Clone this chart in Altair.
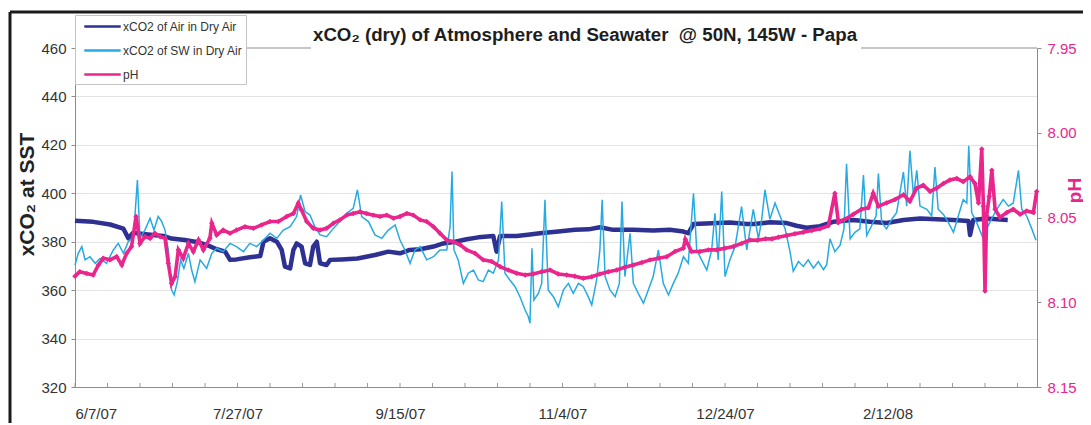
import altair as alt
import pandas as pd

AIR = "xCO2 of Air in Dry Air"
SW = "xCO2 of SW in Dry Air"
PH = "pH"
TITLE = "xCO\u2082 (dry) of Atmosphere and Seawater\u00a0 @ 50N, 145W - Papa"
START = pd.Timestamp("2007-06-07")

# days since 6/7/07 and xCO2 of air
air_day = [0, 5.6, 10.8, 14.9, 16.4, 17.9, 21, 24, 27.2, 29.7, 33.8, 37.4, 40.5, 43.6, 46.2, 47.7,
           49.7, 53.8, 57, 58, 60, 62.1, 63.6, 64.6, 66.2, 67.2, 68.2, 69.7, 70.8, 72.3, 73.3, 74.4,
           75.4, 77.4, 78.5, 82, 86.9, 92.3, 96.4, 100, 103, 106.2, 110.3, 113.3, 117, 120.5, 124.1,
           128.7, 129.7, 130.8, 135.9, 140, 143, 148.7, 153.8, 158, 161.5, 165.6, 171.8, 177.9, 183,
           187.2, 188.7, 190.3, 195.9, 201.5, 206.7, 208.7, 213.8, 219, 222, 225.1, 229.2, 233.3,
           239.5, 244.6, 249.7, 254.9, 260, 265.1, 270.3, 274.9, 275.4, 276.4, 280.5, 283.6, 287]
air_xco2 = [388.7, 388.2, 387.1, 385.4, 381.4, 383.7, 383.2, 382.8, 382.4, 381.3, 380.7, 379.9, 378.7,
            376.9, 375.9, 372.5, 372.7, 373.6, 374.1, 380.0, 381.4, 380.0, 376.6, 369.7, 369.0, 376.6,
            379.3, 378.0, 371.1, 370.4, 378.0, 380.0, 371.1, 370.4, 372.5, 372.7, 373.1, 374.5, 375.9,
            375.2, 376.6, 376.9, 378.0, 379.3, 380.0, 381.0, 381.8, 382.4, 375.9, 382.4, 382.4, 383.0,
            383.5, 384.2, 384.9, 385.1, 386.0, 384.9, 384.9, 384.6, 384.9, 384.2, 383.5, 387.3, 387.6,
            387.9, 387.3, 387.3, 388.0, 387.7, 386.6, 385.8, 386.4, 388.2, 389.0, 388.2, 387.7, 389.0,
            389.6, 389.3, 389.0, 388.6, 382.8, 389.0, 389.6, 389.3, 389.0]

# days since 6/7/07 and xCO2 of seawater
sw_day = [0, 1, 2.1, 3.1, 4.6, 6.2, 7.7, 9.7, 11.8, 13.3, 14.9, 16.4, 18, 19.2, 20, 21.5, 23.1, 24.3,
          25.6, 26.7, 27.7, 28.7, 29.7, 30.5, 31.5, 32.5, 33.5, 34.9, 35.9, 36.9, 38.5, 40.5, 42.1,
          43.6, 45.6, 47.7, 49.7, 51.8, 53.8, 55.9, 58, 60, 62.1, 64.1, 66.2, 68.2, 69.4, 70.8, 72.3,
          73.8, 75.4, 77.4, 79.5, 81.5, 83.6, 85.6, 86.9, 88.2, 90.3, 92.3, 94.4, 96.4, 98.5,
          100, 101.5, 103.1, 104.6, 106.2, 108.2, 110.3, 112.3, 114.4, 115.4, 116, 116.6, 117.9, 119.5,
          121, 122.6, 124.1, 125.6, 127.2, 128.7, 130.3, 131.3, 132.3, 133.8, 135.4, 136.9, 138.5,
          139.5, 140, 140.6, 141.2, 142.6, 143.6, 144.6, 145.6, 147.2, 148.7, 150.3, 151.8, 153.3,
          154.9, 156.4, 157.9, 159, 160.5, 161.5, 162.2, 163.1, 164.6, 166.2, 167.5, 168.3, 169.2,
          170.8, 171.8, 173.3, 174.9, 176.4, 177.9, 179.5, 181, 182.6, 184.1, 185.6, 187.2, 188.7,
          190.3, 191.3, 192.8, 194.4, 195.9, 196.9, 197.9, 199, 200, 201.5, 203.1, 205.1, 206.7,
          208.7, 210.3, 211.3, 212.3, 213.8, 215.4, 216.9, 218.5, 220, 221, 222.6, 224.1, 225.6,
          227.2, 228.7, 230.3, 231.3, 232.3, 233.8, 235.4, 236.6, 237.4, 238.5, 240, 241.5, 242.6,
          243.6, 245.1, 246.5, 247.2, 248.2, 249.7, 251.3, 252.8, 254.9, 255.9, 256.9, 258, 259, 260,
          262.1, 263.6, 264.6, 265.6, 267.2, 268.7, 270.3, 271.8, 273.3, 274.4, 275, 275.9, 277.4,
          279.5, 280.5, 282, 283.6, 285.6, 287.2, 288.7, 290.3, 291.3, 292.8, 294.4, 295.7]
sw_xco2 = [370.4, 375.2, 378.0, 372.5, 373.8, 371.1, 373.1, 371.1, 376.6, 379.3, 375.2, 380.0, 382.1,
           405.5, 381.4, 384.8, 389.7, 384.8, 390.4, 388.3, 384.8, 376.6, 360.1, 358.0, 363.5, 372.5,
           369.0, 375.2, 368.3, 363.5, 372.5, 369.0, 375.2, 377.3, 375.9, 379.3, 378.0, 375.9, 379.3,
           378.0, 380.7, 383.5, 381.4, 384.8, 386.2, 390.4, 399.3, 392.4, 391.0, 386.2, 382.8, 382.1,
           385.5, 388.3, 391.7, 393.8, 401.4, 390.4, 388.3, 382.8, 381.4, 384.8, 386.9,
           380.7, 376.6, 371.1, 376.6, 378.0, 372.5, 373.8, 376.6, 376.6, 386.2, 409.0, 376.6, 372.5,
           362.8, 367.0, 368.3, 364.2, 363.5, 368.3, 367.0, 372.5, 396.6, 367.0, 364.2, 361.4, 357.3,
           351.8, 349.0, 346.3, 377.3, 355.9, 358.7, 362.8, 397.3, 360.1, 357.3, 353.2, 360.1, 362.8,
           358.7, 362.8, 361.4, 357.3, 353.9, 364.2, 376.6, 397.3, 365.6, 360.1, 357.3, 362.8, 396.6,
           365.6, 383.5, 362.8, 358.7, 354.6, 360.1, 365.6, 376.6, 362.8, 358.0, 362.8, 367.0, 373.8,
           371.1, 400.0, 376.6, 372.5, 368.3, 376.6, 391.7, 372.5, 400.7, 365.6, 372.5, 378.0, 394.5,
           376.6, 393.4, 381.2, 389.3, 401.4, 389.3, 396.0, 390.7, 385.3, 375.9, 367.8, 371.8, 369.8,
           372.5, 369.1, 371.8, 368.5, 370.5, 381.2, 375.9, 378.5, 385.3, 412.2, 381.2, 383.9, 385.3,
           407.5, 382.6, 386.6, 390.7, 408.2, 388.0, 385.3, 389.3, 392.0, 408.8, 394.7, 417.6, 398.7,
           409.5, 394.7, 393.4, 390.7, 410.8, 393.4, 391.3, 388.0, 383.9, 390.7, 397.4, 396.0, 419.6,
           392.0, 388.0, 381.2, 385.3, 389.3, 393.4, 397.4, 394.7, 396.0, 409.5, 393.4, 390.7, 385.3,
           380.6]

# days since 6/7/07 and pH
ph_day = [0, 1.5, 3.6, 5.6, 7.2, 8.7, 10.8, 12.8, 14.4, 15.9, 17.4, 18.8, 20, 21.5, 23.1, 24.6, 26.2,
          27.7, 28.7, 29.7, 30.8, 31.8, 33.3, 34.9, 36.4, 38, 39.5, 41.5, 42.1, 43.6, 45.6, 47.7,
          49.7, 52.3, 54.9, 57.4, 60, 62.6, 65.1, 67.2, 68.7, 69.7, 71.3, 73.3, 75.4, 77.4, 79.5,
          81.5, 83.6, 85.6, 87.7, 89.7, 91.8, 93.8, 95.9, 98,
          100, 102.1, 104.1, 106.2, 108.2, 110.3, 112.3, 114.4, 116.4, 118.5, 120.5, 123.1, 125.6,
          128.2, 130.8, 133.3, 135.9, 138.5, 141, 143.6, 146.2, 148.7, 151.3, 153.8, 156.4, 159,
          161.5, 164.1, 166.7, 169.2, 171.8, 174.4, 176.9, 179.5, 182.1, 184.6, 187.2, 187.8, 189.7,
          192.3, 194.9, 197.4, 200, 202.6, 205.1, 207.7,
          210, 212.5, 214.5, 216.4, 219, 221.5, 224.1, 226.7, 229.2, 231.8, 233.8, 234.9, 236.9,
          239.5, 242, 244.1, 245.6, 247.2, 249.7, 252.3, 254.9, 256.9, 259, 261, 263.1, 265.1, 267.2,
          269.2, 271.3, 273.3, 275.4, 276.9, 278, 279, 279.5, 280, 280.5, 281.3, 282.1, 283.1, 284.6,
          286.7, 288.7, 290.8, 292.8, 294.9, 295.9]
ph_value = [8.0846, 8.0820, 8.0830, 8.0839, 8.0780, 8.0741, 8.0750, 8.0731, 8.0780, 8.0711, 8.0671,
            8.0494, 8.0653, 8.0613, 8.0623, 8.0593, 8.0613, 8.0623, 8.0770, 8.0889, 8.0849, 8.0691,
            8.0741, 8.0653, 8.0701, 8.0633, 8.0691, 8.0623, 8.0534, 8.0603, 8.0574, 8.0593, 8.0574,
            8.0554, 8.0564, 8.0544, 8.0524, 8.0524, 8.0494, 8.0476, 8.0416, 8.0456, 8.0524, 8.0564,
            8.0574, 8.0564, 8.0534, 8.0514, 8.0486, 8.0476, 8.0466, 8.0476, 8.0486, 8.0494, 8.0486,
            8.0504,
            8.0494, 8.0476, 8.0486, 8.0514, 8.0524, 8.0554, 8.0593, 8.0633, 8.0643, 8.0661, 8.0691,
            8.0711, 8.0750, 8.0760, 8.0790, 8.0810, 8.0829, 8.0839, 8.0833, 8.0820, 8.0810, 8.0833,
            8.0839, 8.0846, 8.0859, 8.0849, 8.0833, 8.0820, 8.0810, 8.0794, 8.0780, 8.0766, 8.0750,
            8.0741, 8.0731, 8.0701, 8.0681, 8.0629, 8.0701, 8.0701, 8.0691, 8.0691, 8.0681, 8.0671,
            8.0653, 8.0633,
            8.0634, 8.0626, 8.0626, 8.0616, 8.0606, 8.0596, 8.0587, 8.0577, 8.0567, 8.0549, 8.0357,
            8.0529, 8.0510, 8.0481, 8.0451, 8.0443, 8.0357, 8.0433, 8.0414, 8.0394, 8.0366, 8.0404,
            8.0327, 8.0309, 8.0346, 8.0327, 8.0299, 8.0279, 8.0270, 8.0289, 8.0260, 8.0299, 8.0414,
            8.0096, 8.0433, 8.0933, 8.0490, 8.0376, 8.0221, 8.0451, 8.0500, 8.0471, 8.0451, 8.0481,
            8.0461, 8.0471, 8.0346]

major_day = [0, 50, 100, 150, 200, 250]
minor_day = [0, 10, 20, 30, 40, 50, 60, 70, 80, 90, 100, 110, 120, 130, 140, 150, 160, 170, 180,
             190, 200, 210, 220, 230, 240, 250, 260, 270, 280, 290]
left_ticks = [320, 340, 360, 380, 400, 420, 440, 460]
right_ticks = [7.95, 8.00, 8.05, 8.10, 8.15]

NAVY = "#2E3192"
LIGHT = "#27AAE1"
MAGENTA = "#EA258C"
FONT = "Liberation Sans, Arial, sans-serif"
W, H = 962, 339


def to_dates(days):
    return START + pd.to_timedelta(days, unit="D")


air_df = pd.DataFrame({"date": to_dates(air_day), "xco2": air_xco2, "series": AIR})
sw_df = pd.DataFrame({"date": to_dates(sw_day), "xco2": sw_xco2, "series": SW})
ph_df = pd.DataFrame({"date": to_dates(ph_day), "ph": ph_value, "series": PH})
minor_df = pd.DataFrame({"date": to_dates(minor_day)})


def dt(ts):
    return alt.DateTime(year=int(ts.year), month=int(ts.month), date=int(ts.day))


major_dates = [dt(t) for t in to_dates(major_day)]
x_scale = alt.Scale(domain=[alt.DateTime(year=2007, month=6, date=7),
                            alt.DateTime(year=2008, month=3, date=29)])
x_axis = alt.Axis(values=major_dates, labelExpr="timeFormat(datum.value, '%-m/%-d/%y')",
                  ticks=False, grid=False, domainColor="#8c8c8c", labelFontSize=15,
                  labelColor="#333333", labelPadding=19, title=None, labelFont=FONT)
X = alt.X("date:T", scale=x_scale, axis=x_axis)

color = alt.Color(
    "series:N",
    scale=alt.Scale(domain=[AIR, SW, PH], range=[NAVY, LIGHT, MAGENTA]),
    legend=alt.Legend(title=None, orient="none", legendX=0, legendY=-33, fillColor="white",
                      strokeColor="#c4c4c4", padding=3, symbolType="M-2.6,0L2.6,0",
                      symbolSize=196, symbolStrokeWidth=2.5, symbolOffset=16, labelOffset=12,
                      labelFont="Liberation Sans Narrow, Liberation Sans, Arial",
                      labelFontSize=12, labelColor="#333333", rowPadding=9),
)

y_left = alt.Y("xco2:Q",
               scale=alt.Scale(domain=[320, 460], nice=False, zero=False),
               axis=alt.Axis(values=left_ticks, title="xCO\u2082 at SST", titleFontSize=21,
                             titleFont=FONT, titleFontWeight="bold", titleColor="#222222",
                             titlePadding=3, titleY=146, labelFontSize=15, labelFont=FONT,
                             labelColor="#333333", tickSize=4, tickColor="#8c8c8c",
                             labelPadding=5, domainColor="#8c8c8c", gridColor="#e4e4e4",
                             gridOpacity={"condition": {"test": "datum.value === 460", "value": 0},
                                          "value": 1}))

y_right = alt.Y("ph:Q",
                scale=alt.Scale(domain=[7.95, 8.15], reverse=True, nice=False, zero=False),
                axis=alt.Axis(orient="right", values=right_ticks, format=".2f", grid=False,
                              title="pH", titleAngle=270, titleFontSize=19, titleFont=FONT,
                              titleFontWeight="bold", titleColor=MAGENTA, titleX=37,
                              titleY=142, titleBaseline="middle",
                              labelFontSize=15, labelFont=FONT, labelColor=MAGENTA,
                              tickSize=4, tickColor="#8c8c8c", labelPadding=6,
                              domainColor="#8c8c8c"))

air_line = alt.Chart(air_df).mark_line(strokeWidth=4.5, strokeJoin="round").encode(
    x=X, y=y_left, color=color)
sw_line = alt.Chart(sw_df).mark_line(strokeWidth=1.5).encode(x=X, y=y_left, color=color)
left = alt.layer(air_line, sw_line)

ph_line = alt.Chart(ph_df).mark_line(strokeWidth=3.6).encode(x=X, y=y_right, color=color)
ph_pts = alt.Chart(ph_df).mark_point(shape="diamond", filled=True, size=30, opacity=1,
                                     color=MAGENTA).encode(x=X, y=y_right)
right = alt.layer(ph_line, ph_pts)

one = pd.DataFrame({"t": [TITLE]})
minor_ticks = alt.Chart(minor_df).mark_rule(color="#9a9a9a", strokeWidth=1).encode(
    x=X, y=alt.value(H - 4), y2=alt.value(H))
top_a = alt.Chart(one).mark_rule(color="#8c8c8c", strokeWidth=1).encode(
    x=alt.value(0), x2=alt.value(236), y=alt.value(0))
top_b = alt.Chart(one).mark_rule(color="#8c8c8c", strokeWidth=1).encode(
    x=alt.value(786), x2=alt.value(W), y=alt.value(0))
frame_top = alt.Chart(one).mark_rule(color="#1b1b1b", strokeWidth=3).encode(
    x=alt.value(-65), x2=alt.value(1030), y=alt.value(-36))
frame_left = alt.Chart(one).mark_rule(color="#1b1b1b", strokeWidth=3).encode(
    x=alt.value(-65), y=alt.value(-36), y2=alt.value(390))
title = alt.Chart(one).mark_text(font=FONT, fontSize=18.7, fontWeight="bold", color="#1e1e1e",
                                 align="center", baseline="alphabetic").encode(
    x=alt.value(510), y=alt.value(-7), text="t:N")

chart = alt.layer(frame_top, frame_left, top_a, top_b, minor_ticks, title, left, right).resolve_scale(
    y="independent"
).properties(
    width=W, height=H,
    autosize=alt.AutoSizeParams(type="none"),
    padding={"left": 67, "top": 40, "right": 46, "bottom": 36},
).configure_view(strokeWidth=0)

chart.save("out.html", embed_options={"renderer": "svg", "actions": False})
